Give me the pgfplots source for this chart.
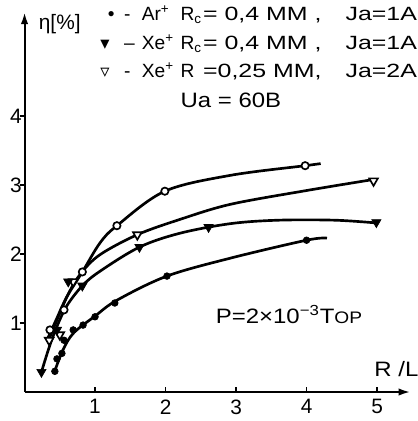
\documentclass[border=0pt]{standalone}
\usepackage{fontspec}
\setmainfont{Liberation Sans}
\newfontfamily\sym{DejaVu Sans}
\newfontfamily\wide[FakeStretch=1.3]{Liberation Sans}
\newfontfamily\semiwide[FakeStretch=1.15]{Liberation Sans}
\usepackage{pgfplots}
\pgfplotsset{compat=1.18}
\usetikzlibrary{arrows.meta}

\newcommand\mf{\fontsize{12.5}{14}\selectfont}
\newcommand\lf{\fontsize{11.5}{13}\selectfont\wide}
\newcommand\nf{\fontsize{11.5}{13}\selectfont}

\begin{document}
\begin{tikzpicture}
\begin{axis}[
    x=42.3pt, y=41.4pt,
    xmin=0, xmax=5.47, ymin=0, ymax=5.5,
    axis lines=left,
    axis line style={line width=1.2pt, -{Latex[length=7pt,width=4.5pt]}},
    xtick={1,2,3,4,5}, ytick={1,2,3,4},
    tick align=inside,
    major tick length=3pt,
    tick style={line width=1pt, black},
    ytick style={xshift=-3pt},
    /pgf/number format/assume math mode=true,
    tick label style={font=\mf},
    xticklabel style={yshift=-1pt},
    yticklabel style={inner sep=1.5pt},
    clip=false,
]
% fitted curves
\addplot[line width=1.6pt, smooth, tension=0.55] coordinates {(0.33,0.78) (0.45,1.05) (0.6,1.38) (0.82,1.74) (1.07,2.16) (1.31,2.41) (1.99,2.91) (2.92,3.14) (3.98,3.28) (4.2,3.31)};
\addplot[line width=1.6pt, smooth, tension=0.55] coordinates {(0.33,0.72) (0.45,1.02) (0.62,1.42) (0.8,1.72) (1.07,1.99) (1.6,2.28) (2.2,2.5) (2.92,2.72) (4.0,2.92) (4.95,3.08)};
\addplot[line width=1.6pt, smooth, tension=0.55] coordinates {(0.24,0.29) (0.35,0.65) (0.46,0.95) (0.6,1.25) (0.82,1.54) (1.07,1.75) (1.63,2.1) (2.2,2.3) (2.92,2.44) (3.6,2.49) (4.4,2.49) (4.99,2.45)};
\addplot[line width=1.6pt, smooth, tension=0.55] coordinates {(0.42,0.28) (0.55,0.62) (0.7,0.86) (1.0,1.1) (1.31,1.33) (2.02,1.68) (2.92,1.94) (4.0,2.2) (4.29,2.23)};
% measured points
\addplot[only marks, mark=*, mark size=2.2pt, mark options={fill=white, line width=1pt}] coordinates {(0.36,0.9) (0.56,1.19) (0.82,1.74) (1.31,2.41) (1.99,2.91) (3.98,3.28)};
\addplot[only marks, mark=triangle*, mark size=3pt, mark options={rotate=180, fill=white, line width=1pt}] coordinates {(0.35,0.75) (0.5,0.83) (0.69,1.6) (1.6,2.28) (4.95,3.06)};
\addplot[only marks, mark=triangle*, mark size=3.2pt, mark options={rotate=180}] coordinates {(0.24,0.29) (0.46,0.9) (0.62,1.6) (0.82,1.54) (1.63,2.1) (2.61,2.39) (4.99,2.46)};
\addplot[only marks, mark=*, mark size=2pt] coordinates {(0.43,0.3) (0.46,0.48) (0.53,0.56) (0.56,0.75) (0.69,0.9) (0.83,0.97) (1.0,1.09) (1.28,1.29) (2.02,1.68) (4.0,2.2)};
% texts
\node[anchor=base west, font=\mf] at (axis cs:0.12,5.25) {η[\%]};
\node[anchor=base west, font=\mf\semiwide] at (axis cs:4.88,0.22) {R /L};
\node[anchor=base west, font=\mf\semiwide] at (axis cs:2.13,4.13) {Ua = 60В};
\node[anchor=base west, font=\mf\semiwide] at (axis cs:2.63,1.0) {P=2×10\textsuperscript{−3}Т{\fontsize{10}{12}\selectfont ОР}};
% legend lines
\node[anchor=base, font=\nf] at (axis cs:1.23,5.38) {•};
\node[anchor=base west, font=\nf] at (axis cs:1.33,5.38) {-};
\node[anchor=base west, font=\nf] at (axis cs:1.58,5.38) {Ar\textsuperscript{+}};
\node[anchor=base west, font=\nf] at (axis cs:2.13,5.38) {R\textsubscript{c}};
\node[anchor=base west, font=\lf] at (axis cs:2.45,5.38) {= 0,4 ММ ,};
\node[anchor=base west, font=\lf] at (axis cs:4.47,5.38) {Ja=1A};
\node[anchor=base, font=\fontsize{11}{13}\sym] at (axis cs:1.14,4.96) {▾};
\node[anchor=base west, font=\nf] at (axis cs:1.33,4.96) {–};
\node[anchor=base west, font=\nf] at (axis cs:1.58,4.96) {Xe\textsuperscript{+}};
\node[anchor=base west, font=\nf] at (axis cs:2.13,4.96) {R\textsubscript{c}};
\node[anchor=base west, font=\lf] at (axis cs:2.45,4.96) {= 0,4 ММ ,};
\node[anchor=base west, font=\lf] at (axis cs:4.47,4.96) {Ja=1A};
\node[anchor=base, font=\fontsize{11}{13}\sym] at (axis cs:1.14,4.56) {▿};
\node[anchor=base west, font=\nf] at (axis cs:1.33,4.56) {-};
\node[anchor=base west, font=\nf] at (axis cs:1.58,4.56) {Xe\textsuperscript{+}};
\node[anchor=base west, font=\nf] at (axis cs:2.13,4.56) {R};
\node[anchor=base west, font=\lf] at (axis cs:2.45,4.56) {=0,25 ММ,};
\node[anchor=base west, font=\lf] at (axis cs:4.47,4.56) {Ja=2A};
\coordinate (bbsw) at (axis cs:-0.348,-0.42);
\coordinate (bbne) at (axis cs:5.567,5.681);
\end{axis}
\pgfresetboundingbox
\path[use as bounding box] (bbsw) rectangle (bbne);
\end{tikzpicture}
\end{document}
